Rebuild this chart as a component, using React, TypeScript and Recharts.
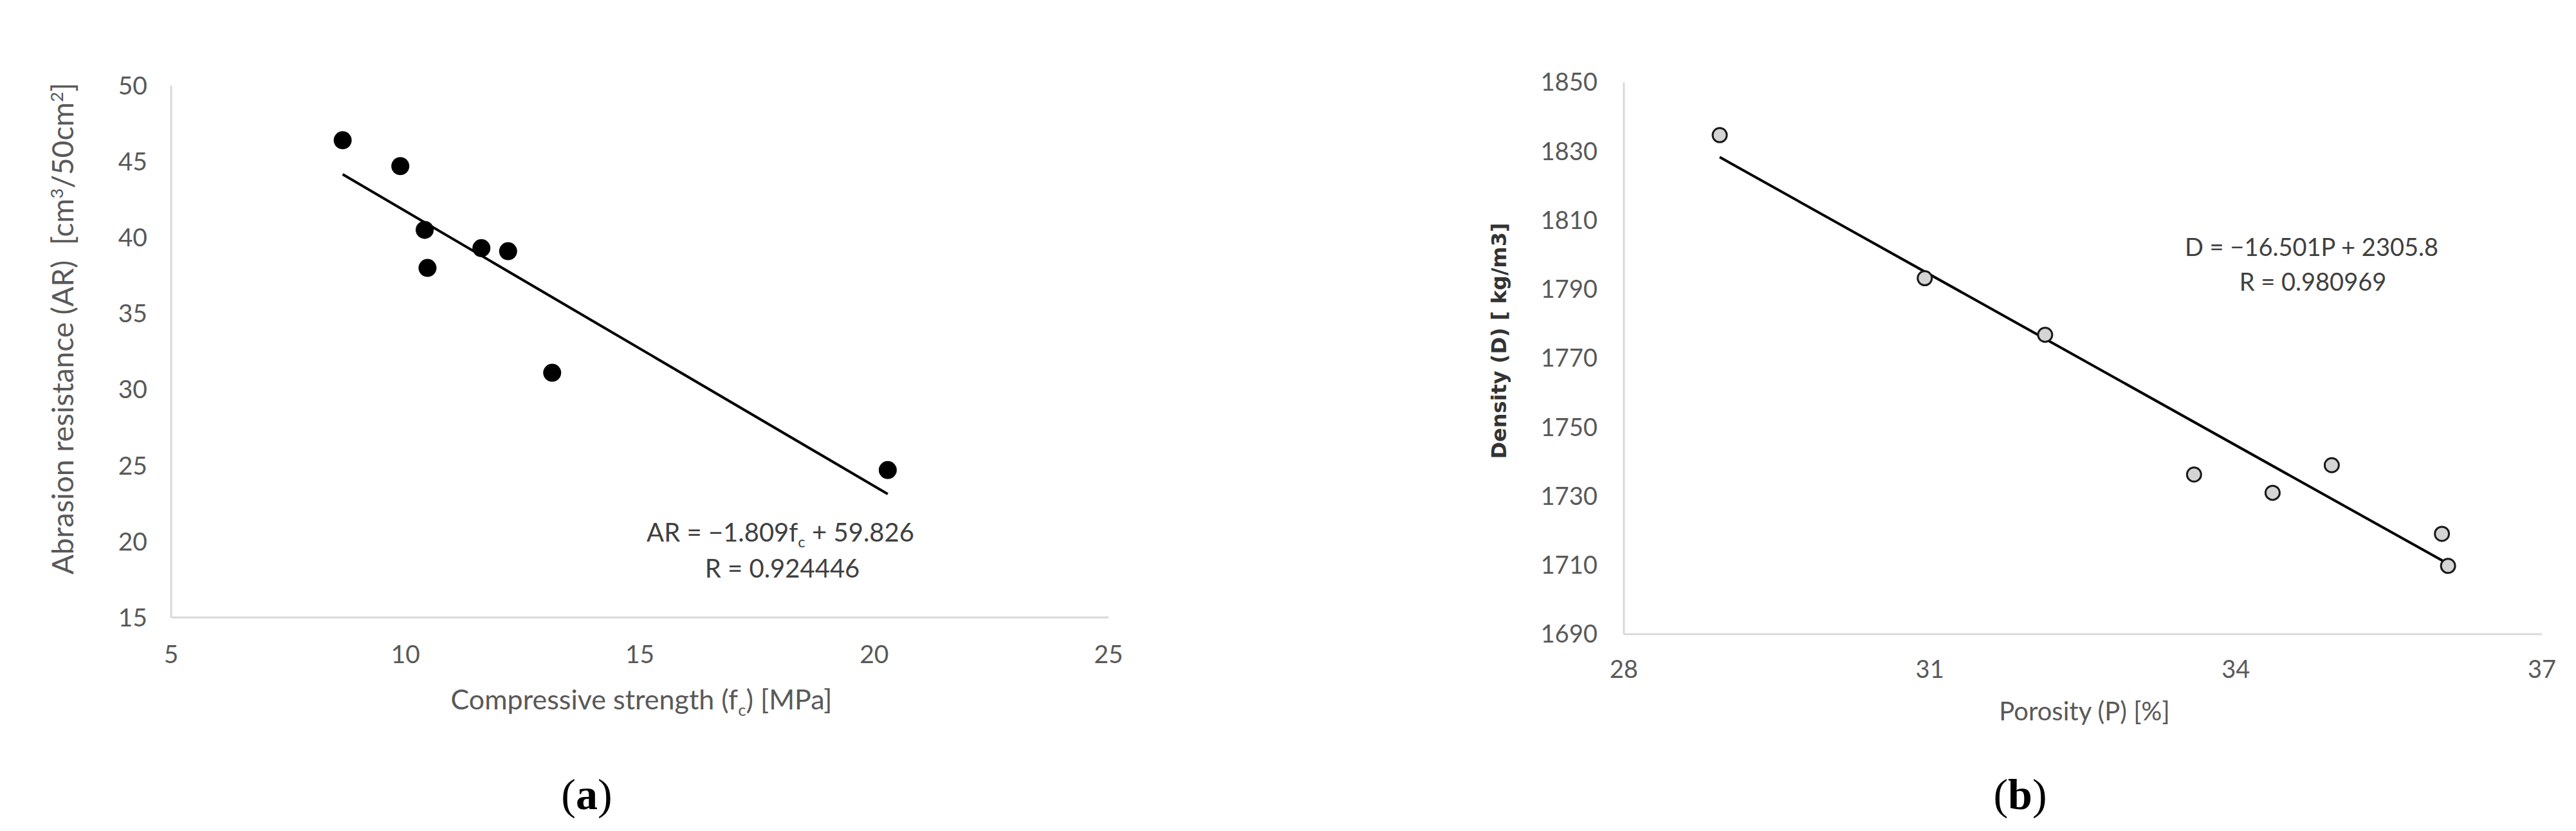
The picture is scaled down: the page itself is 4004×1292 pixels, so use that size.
import React from "react"
import {
  ScatterChart,
  Scatter,
  XAxis,
  YAxis,
} from "recharts"

// (a) abrasion resistance vs compressive strength
const strengthFc = [8.66, 9.89, 10.41, 10.47, 11.62, 12.19, 13.13, 20.29]
const abrasionAR = [46.4, 44.7, 40.5, 38.0, 39.3, 39.1, 31.1, 24.7]
const trendAX = [8.66, 20.29]
const trendAY = [44.16, 23.12]
const ticksAX = [5, 10, 15, 20, 25]
const ticksAY = [15, 20, 25, 30, 35, 40, 45, 50]

// (b) density vs porosity
const porosityP = [28.94, 30.95, 32.13, 33.59, 34.36, 34.94, 36.02, 36.08]
const densityD = [1834.7, 1793.2, 1776.8, 1736.3, 1731.0, 1739.0, 1719.1, 1709.8]
const trendBX = [28.94, 36.08]
const trendBY = [1828.3, 1710.4]
const ticksBX = [28, 31, 34, 37]
const ticksBY = [1690, 1710, 1730, 1750, 1770, 1790, 1810, 1830, 1850]

const zip = (xs: number[], ys: number[]) => xs.map((x, i) => ({ x, y: ys[i] }))

const pointsA = zip(strengthFc, abrasionAR)
const lineA = zip(trendAX, trendAY)
const pointsB = zip(porosityP, densityD)
const lineB = zip(trendBX, trendBY)

const FONT = "Lato, 'Open Sans', sans-serif"
const GREY = "#595959"
const AXIS = "#d9d9d9"

const noDot = () => <g />

function Txt({ x, y, size, rotate, style, children }: any) {
  return (
    <div
      style={{
        position: "absolute",
        left: x,
        top: y,
        transform: `translate(-50%, -50%)${rotate ? " rotate(-90deg)" : ""}`,
        whiteSpace: "pre",
        lineHeight: 1,
        fontFamily: FONT,
        fontSize: size,
        color: GREY,
        ...style,
      }}
    >
      {children}
    </div>
  )
}

export default function App() {
  return (
    <div
      style={{
        position: "absolute",
        left: 0,
        top: 0,
        width: 4004,
        height: 1292,
        background: "#fff",
        overflow: "hidden",
      }}
    >
      {/* chart (a) */}
      <div style={{ position: "absolute", left: 0, top: 0 }}>
        <ScatterChart
          width={1800}
          height={1292}
          margin={{ top: 133, right: 77, bottom: 272, left: 166 }}
        >
          <XAxis
            type="number"
            dataKey="x"
            domain={[5, 25]}
            ticks={ticksAX}
            height={60}
            axisLine={{ stroke: AXIS, strokeWidth: 3 }}
            tickLine={false}
            tickSize={0}
            tickMargin={43}
            tick={{ fill: GREY, fontSize: 39, fontFamily: FONT }}
            allowDataOverflow
          />
          <YAxis
            type="number"
            dataKey="y"
            domain={[15, 50]}
            ticks={ticksAY}
            width={100}
            axisLine={{ stroke: AXIS, strokeWidth: 3 }}
            tickLine={false}
            tickSize={0}
            tickMargin={37}
            tick={{ fill: GREY, fontSize: 39, fontFamily: FONT }}
            allowDataOverflow
          />
          <Scatter
            data={lineA}
            line={{ stroke: "#000", strokeWidth: 4 }}
            shape={noDot}
            isAnimationActive={false}
          />
          <Scatter
            data={pointsA}
            shape={(p: any) => <circle cx={p.cx} cy={p.cy} r={14} fill="#000" />}
            isAnimationActive={false}
          />
        </ScatterChart>
      </div>

      {/* chart (b) */}
      <div style={{ position: "absolute", left: 2000, top: 0 }}>
        <ScatterChart
          width={2004}
          height={1292}
          margin={{ top: 128, right: 53, bottom: 246, left: 424 }}
        >
          <XAxis
            type="number"
            dataKey="x"
            domain={[28, 37]}
            ticks={ticksBX}
            height={60}
            axisLine={{ stroke: AXIS, strokeWidth: 3 }}
            tickLine={false}
            tickSize={0}
            tickMargin={41}
            tick={{ fill: GREY, fontSize: 38, fontFamily: FONT }}
            allowDataOverflow
          />
          <YAxis
            type="number"
            dataKey="y"
            domain={[1690, 1850]}
            ticks={ticksBY}
            width={100}
            axisLine={{ stroke: AXIS, strokeWidth: 3 }}
            tickLine={false}
            tickSize={0}
            tickMargin={41}
            tick={{ fill: GREY, fontSize: 38, fontFamily: FONT }}
            allowDataOverflow
          />
          <Scatter
            data={lineB}
            line={{ stroke: "#000", strokeWidth: 4 }}
            shape={noDot}
            isAnimationActive={false}
          />
          <Scatter
            data={pointsB}
            shape={(p: any) => (
              <circle cx={p.cx} cy={p.cy} r={11} fill="#d4d4d4" stroke="#1a1a1a" strokeWidth={3} />
            )}
            isAnimationActive={false}
          />
        </ScatterChart>
      </div>

      {/* titles (a) */}
      <Txt x={997} y={1091} size={43}>
        Compressive strength (f<sub style={{ fontSize: "0.6em" }}>c</sub>) [MPa]
      </Txt>
      <Txt x={97} y={511} size={46} rotate>
        {"Abrasion resistance (AR)  [cm"}
        <sup style={{ fontSize: "0.6em" }}>3</sup>
        {"/50cm"}
        <sup style={{ fontSize: "0.6em" }}>2</sup>
        {"]"}
      </Txt>
      <Txt x={1213} y={830} size={40} style={{ color: "#404040" }}>
        AR = −1.809f<sub style={{ fontSize: "0.6em" }}>c</sub> + 59.826
      </Txt>
      <Txt x={1216} y={883} size={40} style={{ color: "#404040" }}>
        R = 0.924446
      </Txt>
      <Txt x={912} y={1235} size={68} style={{ color: "#000", fontFamily: "'Liberation Serif', serif" }}>
        (<b>a</b>)
      </Txt>

      {/* titles (b) */}
      <Txt x={3240} y={1105} size={40}>
        Porosity (P) [%]
      </Txt>
      <Txt
        x={2330}
        y={530}
        size={32}
        rotate
        style={{ fontFamily: "'DejaVu Sans', sans-serif", fontWeight: "bold", color: "#333" }}
      >
        Density (D) [ kg/m3]
      </Txt>
      <Txt x={3593} y={383} size={38} style={{ color: "#404040" }}>
        D = −16.501P + 2305.8
      </Txt>
      <Txt x={3595} y={437} size={38} style={{ color: "#404040" }}>
        R = 0.980969
      </Txt>
      <Txt x={3140} y={1235} size={68} style={{ color: "#000", fontFamily: "'Liberation Serif', serif" }}>
        (<b>b</b>)
      </Txt>
    </div>
  )
}
